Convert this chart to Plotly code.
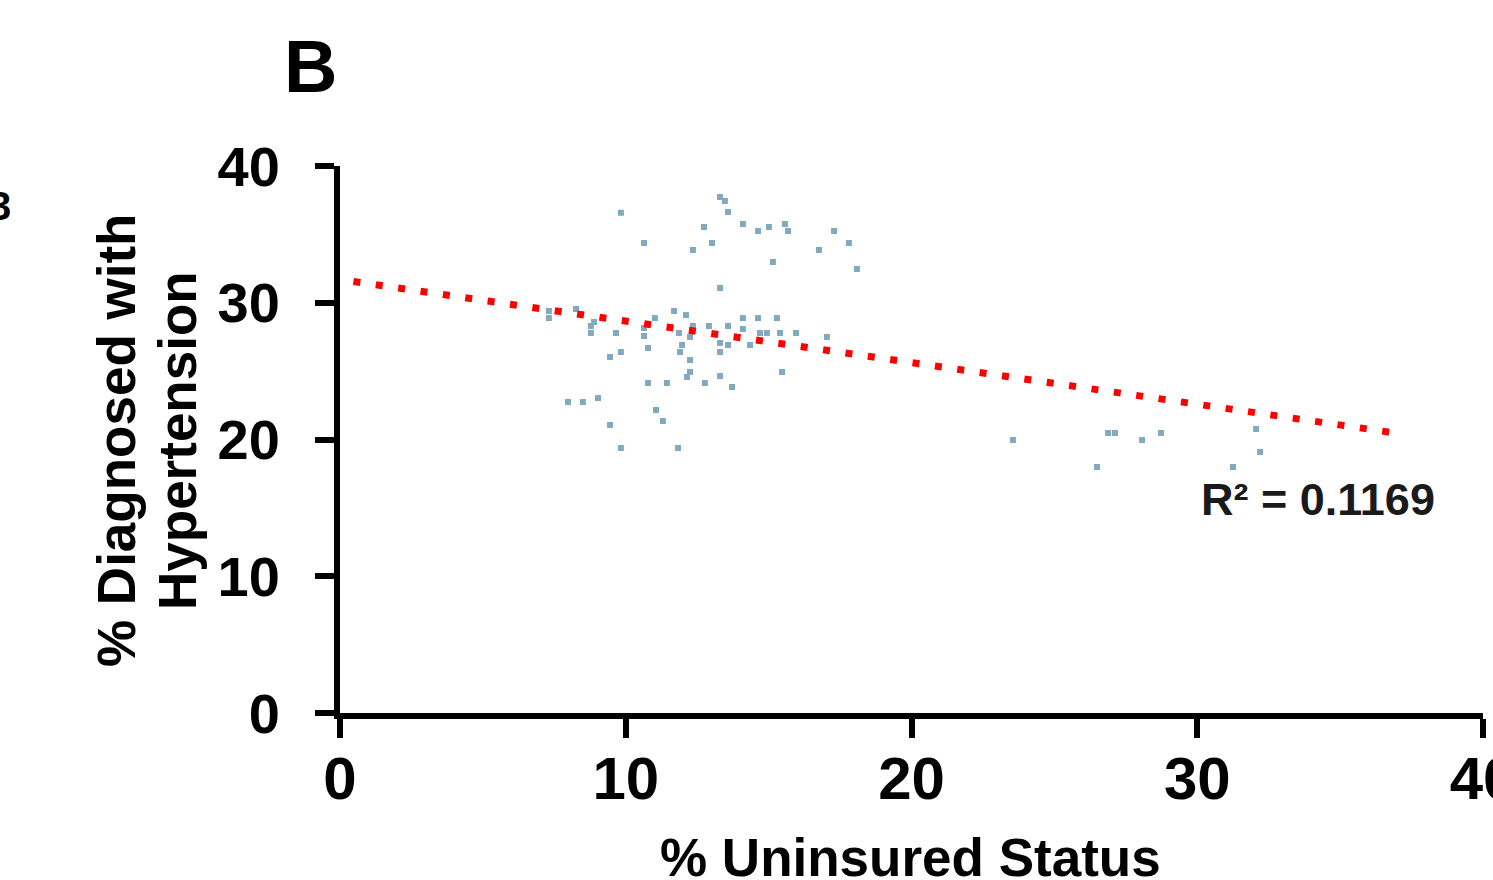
import plotly.graph_objects as go

# Scatter data (% uninsured vs % diagnosed with hypertension)
x_unins = [13.30, 13.47, 9.83, 13.58, 12.74, 14.10, 14.63, 15.01, 15.57, 15.68,
           17.29, 10.64, 13.02, 12.35, 16.76, 17.81, 15.15, 18.09, 13.30, 7.31,
           7.31, 8.26, 11.69, 12.11, 11.02, 8.89, 8.78, 8.78, 9.66, 10.64,
           10.64, 12.35, 12.91, 13.58, 14.10, 14.63, 15.29, 14.10, 14.70, 14.94,
           15.40, 15.96, 17.04, 11.86, 12.25, 13.30, 13.58, 14.35, 11.97, 10.78,
           9.83, 9.45, 11.90, 13.30, 12.25, 15.47, 12.25, 12.14, 13.30, 10.78,
           11.44, 12.77, 13.72, 9.03, 7.98, 8.50, 11.06, 11.30, 9.45, 9.83,
           11.83, 23.55, 26.88, 27.12, 28.07, 28.73, 26.49, 31.25, 32.06, 32.20]
y_hyp = [37.73, 37.44, 36.58, 36.64, 35.54, 35.76, 35.25, 35.54, 35.76, 35.25,
         35.25, 34.37, 34.37, 33.86, 33.86, 34.37, 32.98, 32.47, 31.08, 29.40,
         28.88, 29.54, 29.40, 29.10, 28.88, 28.59, 28.30, 27.79, 27.79, 28.15,
         27.57, 28.30, 28.30, 28.30, 28.88, 28.88, 28.88, 28.08, 27.79, 27.79,
         27.79, 27.79, 27.50, 27.79, 27.50, 27.06, 26.91, 26.91, 26.91, 26.69,
         26.40, 26.03, 26.40, 26.40, 25.81, 24.94, 24.94, 24.57, 24.64, 24.13,
         24.13, 24.13, 23.84, 23.03, 22.74, 22.74, 22.16, 21.35, 21.06, 19.38,
         19.38, 19.96, 20.48, 20.48, 19.96, 20.48, 17.99, 17.99, 20.77, 19.09]

# Linear trendline as drawn (endpoints)
trend_x = [0.47, 37.0]
trend_y = [31.56, 20.45]
r2_text = "R² = 0.1169"

x_ticks = [0, 10, 20, 30, 40]
y_ticks = [0, 10, 20, 30, 40]

FONT = "Liberation Sans, Arial, sans-serif"

fig = go.Figure()
fig.add_trace(go.Scatter(
    x=x_unins, y=y_hyp, mode="markers",
    marker=dict(symbol="square", size=6, color="#82a9bf", line=dict(width=0)),
    showlegend=False, cliponaxis=False,
))
fig.add_trace(go.Scatter(
    x=trend_x, y=trend_y, mode="lines",
    line=dict(color="#ff0000", width=7, dash="7px,15.6px"),
    showlegend=False,
))

axis_common = dict(
    showgrid=False, zeroline=False, showline=True, linecolor="black", linewidth=6,
    ticks="outside", ticklen=19, tickwidth=6, tickcolor="black",
    ticklabeloverflow="allow", automargin=False,
)
fig.update_xaxes(range=[0, 40], tickvals=x_ticks, ticklabelstandoff=-11,
                 tickfont=dict(family=FONT, size=60, color="black", weight="bold"),
                 **axis_common)
fig.update_yaxes(range=[0, 40], tickvals=y_ticks, ticklabelstandoff=24,
                 tickfont=dict(family=FONT, size=56, color="black", weight="bold"),
                 **axis_common)

fig.update_layout(
    width=1493, height=880,
    margin=dict(l=340, r=10, t=166, b=167, autoexpand=False),
    paper_bgcolor="white", plot_bgcolor="white",
    annotations=[
        dict(text="B", xref="paper", yref="paper", x=-0.0254, y=1.181,
             xanchor="center", yanchor="middle", showarrow=False,
             font=dict(family=FONT, size=74, color="black", weight="bold")),
        dict(text="% Uninsured Status", xref="paper", yref="paper", x=0.4987, y=-0.265,
             xanchor="center", yanchor="middle", showarrow=False,
             font=dict(family=FONT, size=53, color="black", weight="bold")),
        dict(text="% Diagnosed with", xref="paper", yref="paper", x=(116 - 340) / 1143,
             y=(713 - 441) / 547, xanchor="center", yanchor="middle", textangle=-90,
             showarrow=False, font=dict(family=FONT, size=53, color="black", weight="bold")),
        dict(text="Hypertension", xref="paper", yref="paper", x=(177 - 340) / 1143,
             y=(713 - 441) / 547, xanchor="center", yanchor="middle", textangle=-90,
             showarrow=False, font=dict(family=FONT, size=53, color="black", weight="bold")),
        dict(text=r2_text, xref="x", yref="y", x=34.23, y=15.58,
             xanchor="center", yanchor="middle", showarrow=False,
             font=dict(family=FONT, size=45, color="#1a1a1a", weight="bold")),
        dict(text="3", xref="paper", yref="paper", x=(0 - 340) / 1143, y=(713 - 206) / 547,
             xanchor="center", yanchor="middle", showarrow=False,
             font=dict(family=FONT, size=40, color="black", weight="bold")),
    ],
)

fig.write_html("out.html", config={"displayModeBar": False},
               post_script="document.body.style.margin='0';")
